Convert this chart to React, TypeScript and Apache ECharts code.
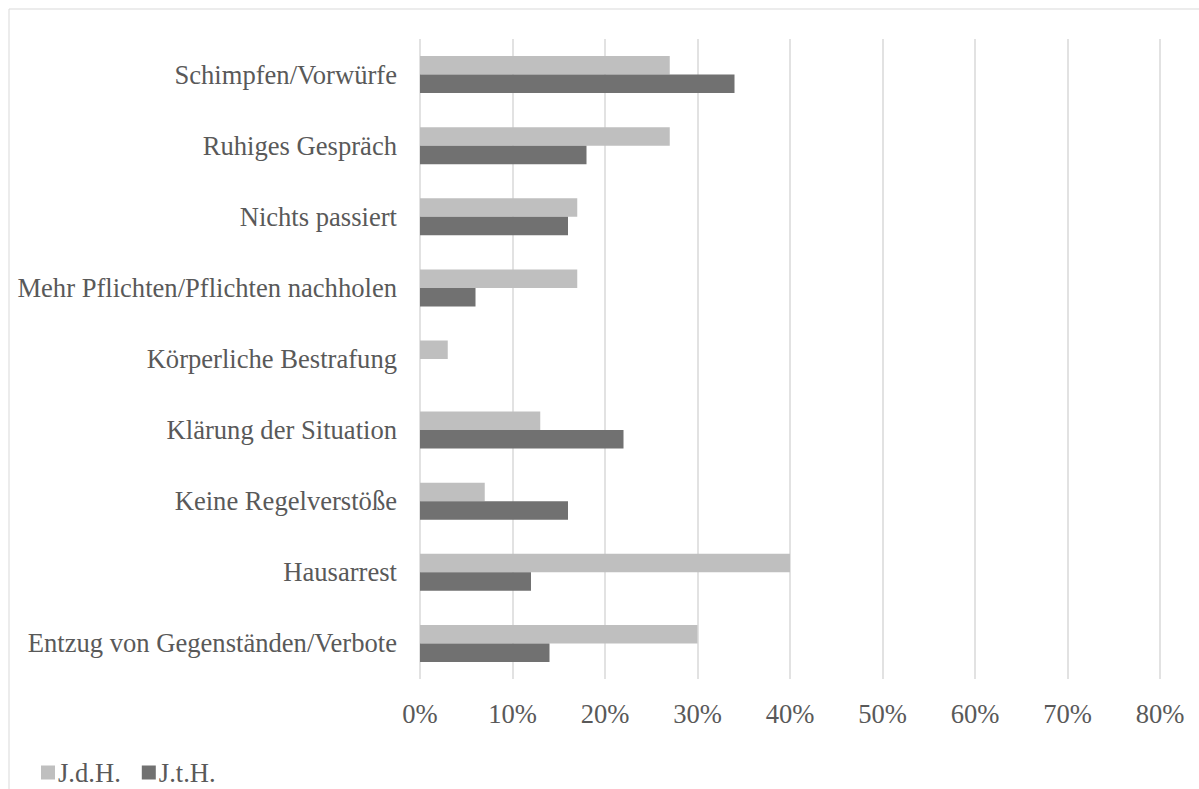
import React, { useEffect, useRef } from "react";
import * as echarts from "echarts";

const categories = [
  "Schimpfen/Vorwürfe",
  "Ruhiges Gespräch",
  "Nichts passiert",
  "Mehr Pflichten/Pflichten nachholen",
  "Körperliche Bestrafung",
  "Klärung der Situation",
  "Keine Regelverstöße",
  "Hausarrest",
  "Entzug von Gegenständen/Verbote",
];
const seriesNames = ["J.d.H.", "J.t.H."];
const jdhValues = [27, 27, 17, 17, 3, 13, 7, 40, 30];
const jthValues = [34, 18, 16, 6, 0, 22, 16, 12, 14];
const colors = ["#bfbfbf", "#717171"];

const FONT = "'Liberation Serif', 'Times New Roman', serif";
const TEXT = "#595959";
const FS = 26.6;

export default function App() {
  const ref = useRef<HTMLDivElement>(null);
  useEffect(() => {
    if (!ref.current) return;
    const chart = echarts.init(ref.current, null, { renderer: "svg" });
    chart.setOption({
      animation: false,
      backgroundColor: "#ffffff",
      textStyle: { fontFamily: FONT },
      graphic: [
        {
          type: "rect",
          shape: { x: 1, y: 1, width: 1400, height: 1000 },
          style: { fill: "none", stroke: "#d9d9d9", lineWidth: 1 },
          silent: true,
          z: 0,
        },
      ],
      legend: {
        left: 28,
        top: 746,
        itemWidth: 14,
        itemHeight: 14,
        itemGap: 21,
        icon: "rect",
        textStyle: { color: TEXT, fontSize: FS, fontFamily: FONT, padding: [0, 0, 0, -2], lineHeight: 26 },
        data: seriesNames,
      },
      grid: { left: 412, top: 31, right: 39, bottom: 110, containLabel: false },
      xAxis: {
        type: "value",
        min: 0,
        max: 80,
        interval: 10,
        axisLine: { show: false },
        axisTick: { show: false },
        splitLine: { show: true, lineStyle: { color: "#d9d9d9", width: 1.5 } },
        axisLabel: {
          color: TEXT,
          fontSize: FS,
          fontFamily: FONT,
          margin: 21,
          formatter: (v: number) => v + "%",
        },
      },
      yAxis: {
        type: "category",
        inverse: true,
        data: categories,
        axisLine: { show: false },
        axisTick: { show: false },
        axisLabel: { color: TEXT, fontSize: FS, fontFamily: FONT, margin: 23 },
      },
      series: [
        {
          name: seriesNames[0],
          type: "bar",
          data: jdhValues,
          barWidth: 18.5,
          barGap: "0%",
          itemStyle: { color: colors[0] },
        },
        {
          name: seriesNames[1],
          type: "bar",
          data: jthValues,
          barWidth: 18.5,
          barGap: "0%",
          itemStyle: { color: colors[1] },
        },
      ],
    });
    return () => chart.dispose();
  }, []);
  return (
    <div
      ref={ref}
      style={{ position: "absolute", left: 8, top: 8, width: 1191, height: 781 }}
    />
  );
}
